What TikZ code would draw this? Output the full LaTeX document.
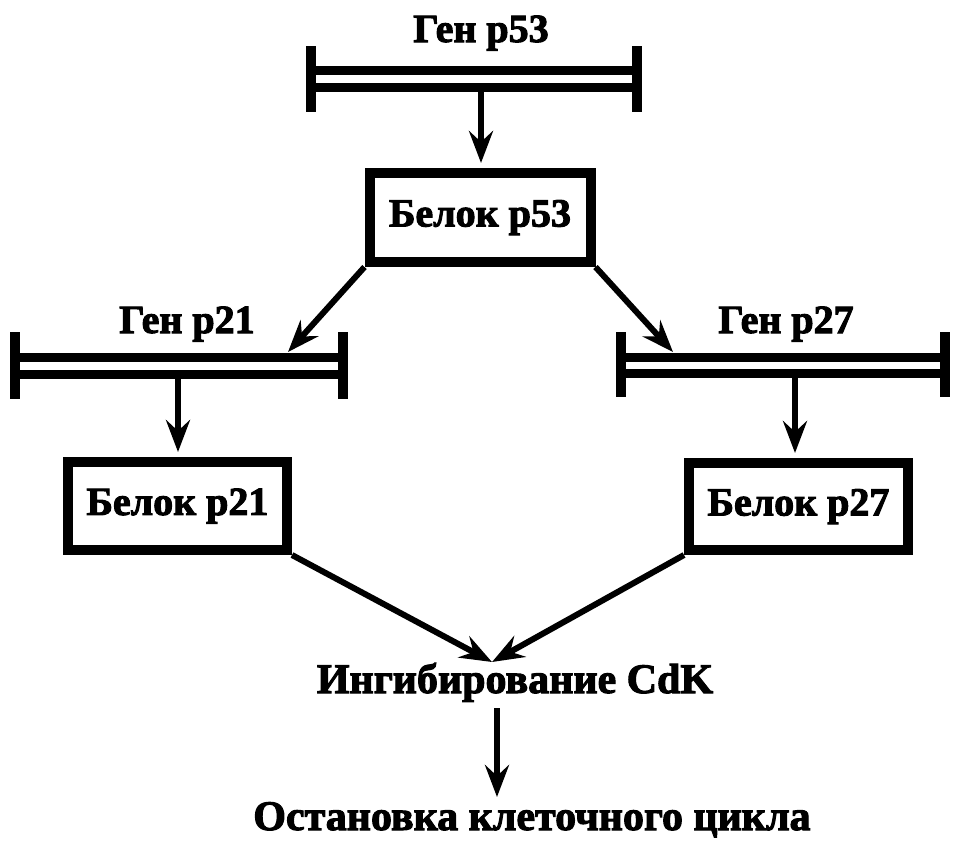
\documentclass[tikz,border=0pt]{standalone}
\usepackage{fontspec}
\setmainfont{Liberation Serif}[BoldFeatures={FakeBold=2.5}]
\usetikzlibrary{arrows.meta}
\tikzset{
  lbl/.style={font=\fontsize{40}{48}\selectfont\bfseries, inner sep=0pt},
  biglbl/.style={font=\fontsize{42}{50}\selectfont\bfseries, inner sep=0pt},
  protbox/.style={draw, line width=10pt, inner sep=0pt, font=\fontsize{40}{48}\selectfont\bfseries},
  arr/.style={line width=6pt, -{Stealth[length=32pt, width=24pt, inset=11pt]}},
  gline/.style={line width=9pt},
  gbar/.style={line width=10pt}
}
\begin{document}
\begin{tikzpicture}[x=1pt, y=-1pt]
\useasboundingbox[fill=white] (0,0) rectangle (966,854);

% Gene p53
\node[lbl, anchor=base] (g53lbl) at (481,42) {Ген p53};
\draw[gbar] (311,46) -- (311,112);
\draw[gbar] (637,46) -- (637,112);
\draw[gline] (311,70) -- (637,70);
\draw[gline] (311,87) -- (637,87);
\coordinate (g53out) at (481,91);

% Protein p53
\node[protbox, minimum width=221pt, minimum height=89pt] (b53) at (480,217.5) {Белок p53};
\draw[arr] (g53out) -- ([yshift=5pt]b53.north -| g53out);

% Gene p21
\node[lbl, anchor=base] (g21lbl) at (187,333) {Ген p21};
\draw[gbar] (15,332) -- (15,399);
\draw[gbar] (343,332) -- (343,399);
\draw[gline] (15,357) -- (343,357);
\draw[gline] (15,374) -- (343,374);
\coordinate (g21in) at (288,352);
\coordinate (g21out) at (178,378);

% Gene p27
\node[lbl, anchor=base] (g27lbl) at (786,333) {Ген p27};
\draw[gbar] (621,332) -- (621,397);
\draw[gbar] (945,332) -- (945,397);
\draw[gline] (621,357) -- (945,357);
\draw[gline] (621,373) -- (945,373);
\coordinate (g27in) at (673,352);
\coordinate (g27out) at (795,377);

\draw[arr] (b53.south west) -- (g21in);
\draw[arr] (b53.south east) -- (g27in);

% Proteins p21, p27
\node[protbox, minimum width=219pt, minimum height=88pt] (b21) at (177.5,506) {Белок p21};
\node[protbox, minimum width=219pt, minimum height=87pt] (b27) at (798.5,506.5) {Белок p27};
\draw[arr] (g21out) -- ([yshift=5pt]b21.north -| g21out);
\draw[arr] (g27out) -- ([yshift=5pt]b27.north -| g27out);

% Inhibition
\coordinate (conv) at (492,662);
\node[biglbl, anchor=base] (inh) at (515,693) {Ингибирование CdK};
\draw[arr] (b21.south east) -- (conv);
\draw[arr] (b27.south west) -- (conv);

% Stop
\node[biglbl, anchor=base] (stop) at (532,830) {Остановка клеточного цикла};
\coordinate (d1) at (497,708);
\coordinate (d2) at (497,797);
\draw[arr] (d1) -- (d2);
\end{tikzpicture}
\end{document}
